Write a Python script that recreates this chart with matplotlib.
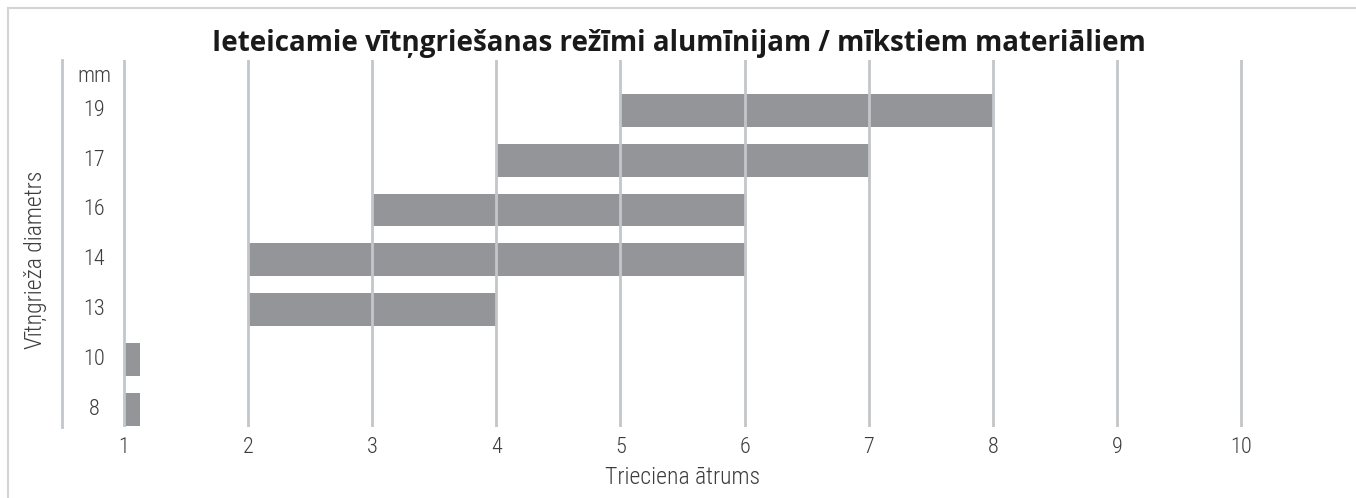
import matplotlib.pyplot as plt
from matplotlib.patches import Rectangle
from matplotlib import font_manager

# data
diameters = ["8", "10", "13", "14", "16", "17", "19"]
speed_start = [1, 1, 2, 2, 3, 4, 5]
speed_end = [1.13, 1.13, 4, 6, 6, 7, 8]
x_ticks = [1, 2, 3, 4, 5, 6, 7, 8, 9, 10]

BAR = "#939598"
GRID = "#c3c6ca"
TEXT = "#3c3c3c"

names = {f.name for f in font_manager.fontManager.ttflist}
narrow = [n for n in ["Roboto Condensed", "Liberation Sans Narrow", "Roboto"] if n in names]
NARROW = narrow[:1] + ["DejaVu Sans"]
LIGHT = "light"

fig = plt.figure(figsize=(13.56, 4.98), dpi=100)
ax = fig.add_axes([0.0457, 0.1426, 0.9153, 0.7369])

# page frame
fig.add_artist(Rectangle((8 / 1356, -0.1), 1.2, 1.1 - 8 / 498,
                         transform=fig.transFigure, fill=False,
                         edgecolor="#d4d4d4", linewidth=1.5))

ypos = list(range(len(diameters)))
widths = [e - s for s, e in zip(speed_start, speed_end)]
ax.barh(ypos, widths, left=speed_start, height=0.66, color=BAR, zorder=1)

ax.set_xlim(0.5, 10.5)
ax.set_ylim(-0.34, 7.0)
ax.set_xticks(x_ticks)
ax.set_xticklabels([str(t) for t in x_ticks], family=NARROW, fontsize=16,
                   color=TEXT, fontweight=LIGHT)
ax.tick_params(axis="x", length=0, pad=7)
ax.set_yticks([])
ax.grid(axis="x", color=GRID, linewidth=2)
ax.set_axisbelow(False)

for s in ["top", "right", "bottom"]:
    ax.spines[s].set_visible(False)
ax.spines["left"].set_color(GRID)
ax.spines["left"].set_linewidth(2)

# category labels sit inside the plot, between the spine and x=1
for y, lab in zip(ypos, diameters):
    ax.text(0.76, y, lab, ha="center", va="center", family=NARROW, fontsize=16,
            color=TEXT, fontweight=LIGHT)
ax.text(0.76, 6.68, "mm", ha="center", va="center", family=NARROW, fontsize=16,
        color=TEXT, fontweight=LIGHT)

ax.set_xlabel("Trieciena ātrums", family=NARROW, fontsize=17, color=TEXT,
              labelpad=6, fontweight=LIGHT)
fig.text(0.026, 0.478, "Vītņgrieža diametrs", rotation=90, ha="center", va="center",
         family=NARROW, fontsize=17, color=TEXT, fontweight=LIGHT)
fig.text(0.501, 0.912, "Ieteicamie vītņgriešanas režīmi alumīnijam / mīkstiem materiāliem",
         ha="center", va="center", family=["Open Sans", "DejaVu Sans"], fontweight="bold",
         fontsize=20, color="#1a1a1a")

fig.savefig("out.png", dpi=100)
